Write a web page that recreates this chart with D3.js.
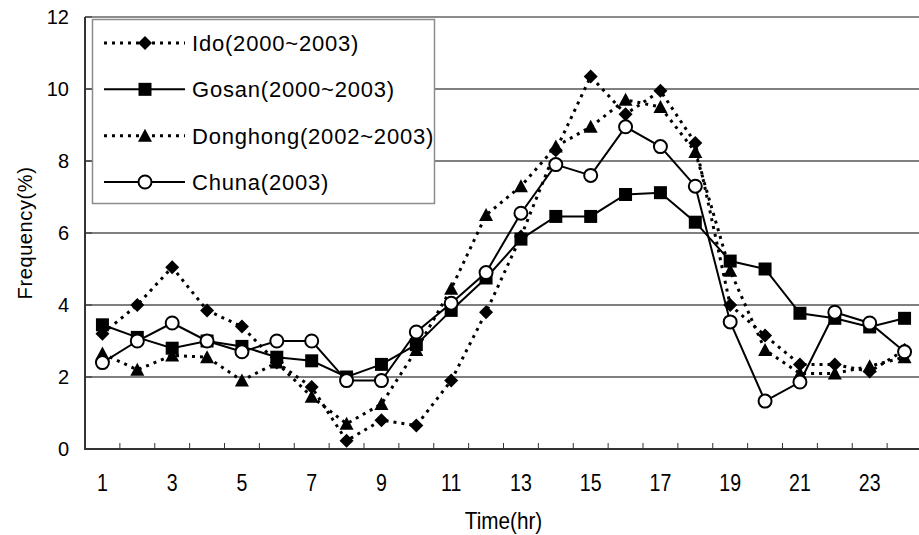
<!DOCTYPE html>
<html>
<head>
<meta charset="utf-8">
<script src="https://cdn.jsdelivr.net/npm/d3@7"></script>
<style>
  body { margin: 0; background: #fff; }
  text { font-family: "Liberation Sans", Arial, sans-serif; fill: #000; }
</style>
</head>
<body>
<div id="chart-div"></div>
<script>
const hours = d3.range(1, 25);
const xTickLabels = [1, 3, 5, 7, 9, 11, 13, 15, 17, 19, 21, 23];
const yTicks = [0, 2, 4, 6, 8, 10, 12];

const ido = [3.2, 4.0, 5.05, 3.85, 3.4, 2.4, 1.72, 0.23, 0.8, 0.65, 1.9, 3.8,
  5.9, 8.3, 10.35, 9.3, 9.95, 8.5, 4.0, 3.15, 2.35, 2.35, 2.15, 2.75];
const gosan = [3.45, 3.1, 2.8, 3.0, 2.85, 2.55, 2.45, 2.0, 2.35, 2.9, 3.85, 4.75,
  5.83, 6.46, 6.46, 7.07, 7.12, 6.3, 5.22, 5.0, 3.77, 3.63, 3.39, 3.63];
const donghong = [2.65, 2.2, 2.6, 2.55, 1.9, 2.4, 1.45, 0.7, 1.25, 2.75, 4.45, 6.5,
  7.3, 8.4, 8.95, 9.7, 9.5, 8.25, 4.95, 2.75, 2.1, 2.1, 2.3, 2.55];
const chuna = [2.4, 3.0, 3.5, 3.0, 2.7, 3.0, 3.0, 1.9, 1.9, 3.25, 4.05, 4.9,
  6.55, 7.9, 7.6, 8.95, 8.4, 7.3, 3.53, 1.33, 1.86, 3.8, 3.5, 2.7];

const seriesNames = ["Ido(2000~2003)", "Gosan(2000~2003)", "Donghong(2002~2003)", "Chuna(2003)"];

const width = 919, height = 535;
const plot = { left: 85, right: 922, top: 17, bottom: 449 };

// marker + line style per series (Excel-ish look)
const series = [
  { name: seriesNames[0], values: ido, marker: "diamond", dash: "3,5", lw: 3 },
  { name: seriesNames[1], values: gosan, marker: "square", dash: null, lw: 2 },
  { name: seriesNames[2], values: donghong, marker: "triangle", dash: "3,5", lw: 3 },
  { name: seriesNames[3], values: chuna, marker: "circle", dash: null, lw: 2 }
];

var svg = d3.select("#chart-div").append("svg")
  .attr("width", width).attr("height", height);

var x = d3.scaleBand().domain(hours).range([plot.left, plot.right]);
var xc = (h) => x(h) + x.bandwidth() / 2;
var y = d3.scaleLinear().domain([0, 12]).range([plot.bottom, plot.top]);

drawGrid();
drawSeries();
drawAxes();
drawLegend();

function drawGrid() {
  svg.append("g").selectAll("line")
    .data(yTicks.filter((d) => d > 0 && d < 12))
    .enter().append("line")
    .attr("x1", plot.left).attr("x2", width)
    .attr("y1", (d) => y(d)).attr("y2", (d) => y(d))
    .attr("stroke", "#000").attr("stroke-width", 1);

  // plot area frame (top)
  svg.append("line")
    .attr("x1", plot.left).attr("x2", width)
    .attr("y1", y(12)).attr("y2", y(12))
    .attr("stroke", "#8c8c8c").attr("stroke-width", 2);
}

function markerPath(type) {
  if (type === "diamond") return "M0,-7L7,0L0,7L-7,0Z";
  if (type === "square") return "M-6.5,-6.5H6.5V6.5H-6.5Z";
  if (type === "triangle") return "M0,-7L7,6L-7,6Z";
  return null;
}

function drawMarker(g, type) {
  if (type === "circle") {
    g.append("circle").attr("r", 6.5)
      .attr("fill", "#fff").attr("stroke", "#000").attr("stroke-width", 2);
  } else {
    g.append("path").attr("d", markerPath(type)).attr("fill", "#000");
  }
}

function drawSeries() {
  var line = d3.line().x((d) => xc(d.h)).y((d) => y(d.v));

  series.forEach(function (s) {
    var pts = s.values.map((v, i) => ({ h: hours[i], v: v }));
    var g = svg.append("g").attr("class", "series");
    g.append("path")
      .datum(pts)
      .attr("d", line)
      .attr("fill", "none")
      .attr("stroke", "#000")
      .attr("stroke-width", s.lw)
      .attr("stroke-dasharray", s.dash);

    g.selectAll(".pt")
      .data(pts)
      .enter().append("g")
      .attr("class", "pt")
      .attr("transform", (d) => "translate(" + xc(d.h) + "," + y(d.v) + ")")
      .each(function () { drawMarker(d3.select(this), s.marker); });
  });
}

function drawAxes() {
  // y axis
  var yAxis = svg.append("g");
  yAxis.append("line")
    .attr("x1", plot.left).attr("x2", plot.left)
    .attr("y1", plot.top).attr("y2", plot.bottom + 1)
    .attr("stroke", "#333").attr("stroke-width", 2);
  yAxis.selectAll(".ytick").data(yTicks).enter().append("line")
    .attr("x1", plot.left).attr("x2", plot.left + 7)
    .attr("y1", (d) => y(d)).attr("y2", (d) => y(d))
    .attr("stroke", "#333").attr("stroke-width", 1);
  yAxis.selectAll(".ylab").data(yTicks).enter().append("text")
    .attr("x", 69).attr("y", (d) => y(d))
    .attr("dy", "0.36em")
    .attr("text-anchor", "end")
    .attr("font-size", 20)
    .text((d) => d);

  // x axis
  var xAxis = svg.append("g");
  xAxis.append("line")
    .attr("x1", plot.left - 1).attr("x2", width)
    .attr("y1", plot.bottom).attr("y2", plot.bottom)
    .attr("stroke", "#333").attr("stroke-width", 2);
  xAxis.selectAll(".xtick").data(hours.slice(1)).enter().append("line")
    .attr("x1", (d) => x(d)).attr("x2", (d) => x(d))
    .attr("y1", plot.bottom).attr("y2", plot.bottom - 6)
    .attr("stroke", "#333").attr("stroke-width", 1);
  xAxis.selectAll(".xlab").data(xTickLabels).enter().append("text")
    .attr("transform", (d) => "translate(" + xc(d) + ",491) scale(0.85,1)")
    .attr("text-anchor", "middle")
    .attr("font-size", 23)
    .text((d) => d);

  svg.append("text")
    .attr("transform", "translate(" + (plot.left + plot.right) / 2 + ",529) scale(0.9,1)")
    .attr("text-anchor", "middle")
    .attr("font-size", 23)
    .text("Time(hr)");

  svg.append("text")
    .attr("transform", "translate(32," + (plot.top + plot.bottom) / 2 + ") rotate(-90)")
    .attr("text-anchor", "middle")
    .attr("font-size", 20)
    .attr("letter-spacing", 0.6)
    .text("Frequency(%)");
}

function drawLegend() {
  var lg = svg.append("g").attr("id", "legend");
  lg.append("rect")
    .attr("x", 92.5).attr("y", 19.5)
    .attr("width", 342).attr("height", 184)
    .attr("fill", "#fff").attr("stroke", "#8c8c8c").attr("stroke-width", 1.5);

  var rowY = d3.scalePoint().domain(seriesNames).range([43, 182]);

  series.forEach(function (s) {
    var row = lg.append("g").attr("transform", "translate(0," + rowY(s.name) + ")");
    row.append("line")
      .attr("x1", 104).attr("x2", 185)
      .attr("stroke", "#000")
      .attr("stroke-width", s.lw)
      .attr("stroke-dasharray", s.dash);
    var m = row.append("g").attr("transform", "translate(145,0)");
    drawMarker(m, s.marker);
    row.append("text")
      .attr("x", 192).attr("dy", "0.36em")
      .attr("font-size", 22)
      .attr("letter-spacing", 0.8)
      .text(s.name);
  });
}
</script>
</body>
</html>
